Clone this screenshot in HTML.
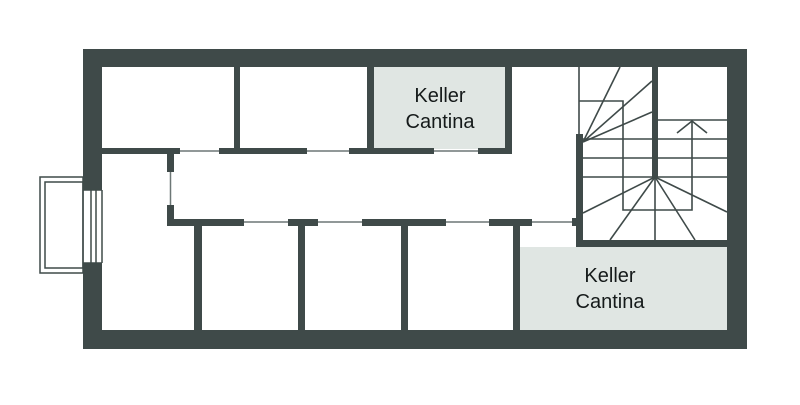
<!DOCTYPE html><html><head><style>body{margin:0;background:#fff}svg{display:block}</style></head><body>
<svg width="800" height="405" viewBox="0 0 800 405" xmlns="http://www.w3.org/2000/svg">
<g fill="#e0e6e3"><rect x="374" y="67" width="131" height="82"/><rect x="520" y="247" width="207" height="83"/></g>
<g stroke="#6d7776" stroke-width="1.5" fill="none">
<line x1="180" y1="151" x2="219" y2="151"/><line x1="307" y1="151" x2="349" y2="151"/><line x1="434" y1="151" x2="478" y2="151"/>
<line x1="170.5" y1="172" x2="170.5" y2="205"/>
<line x1="244" y1="222" x2="288" y2="222"/><line x1="318" y1="222" x2="362" y2="222"/><line x1="446" y1="222" x2="489" y2="222"/><line x1="532" y1="222" x2="573" y2="222"/>
</g>
<g fill="#3f4a49">
<rect x="83" y="49" width="664" height="18"/><rect x="83" y="330" width="664" height="19"/>
<rect x="83" y="49" width="19" height="141"/><rect x="83" y="263" width="19" height="86"/>
<rect x="727" y="49" width="20" height="300"/>
<rect x="234" y="67" width="6" height="85"/><rect x="367" y="67" width="7" height="85"/><rect x="505" y="67" width="7" height="87"/>
<rect x="102" y="148" width="78" height="6"/><rect x="219" y="148" width="88" height="6"/><rect x="349" y="148" width="85" height="6"/><rect x="478" y="148" width="34" height="6"/>
<rect x="167" y="148" width="7" height="24"/><rect x="167" y="205" width="7" height="21"/>
<rect x="167" y="219" width="77" height="7"/><rect x="288" y="219" width="30" height="7"/><rect x="362" y="219" width="84" height="7"/><rect x="489" y="219" width="43" height="7"/><rect x="572" y="218" width="8" height="8"/>
<rect x="194" y="226" width="8" height="104"/><rect x="298" y="226" width="7" height="104"/><rect x="401" y="226" width="7" height="104"/><rect x="513" y="226" width="7" height="104"/>
<rect x="576" y="134" width="7" height="113"/><rect x="576" y="240" width="151" height="7"/>
<rect x="652" y="67" width="6" height="110"/>
</g>
<g stroke="#3f4a49" stroke-width="1.5" fill="none">
<rect x="40" y="177" width="43" height="96"/><rect x="45" y="182" width="38" height="86"/>
<line x1="91" y1="190" x2="91" y2="263"/><line x1="96" y1="190" x2="96" y2="263"/><line x1="102" y1="190" x2="102" y2="263"/>
<line x1="83" y1="190" x2="102" y2="190"/><line x1="83" y1="263" x2="102" y2="263"/>
</g>
<g stroke="#3f4a49" stroke-width="1.6" fill="none">
<line x1="579" y1="67" x2="579" y2="134"/>
<polyline points="579,101 623,101 623,210 692,210 692,121"/>
<line x1="657" y1="120" x2="727" y2="120"/>
<line x1="583" y1="139" x2="727" y2="139"/><line x1="583" y1="158" x2="727" y2="158"/><line x1="583" y1="177" x2="727" y2="177"/>
<line x1="583" y1="142" x2="620" y2="67"/><line x1="583" y1="142" x2="652" y2="81"/><line x1="583" y1="142" x2="652" y2="112"/>
<line x1="655" y1="177" x2="583" y2="213"/><line x1="655" y1="177" x2="610" y2="240"/><line x1="655" y1="177" x2="655" y2="240"/><line x1="655" y1="177" x2="695" y2="240"/><line x1="655" y1="177" x2="727" y2="212"/>
<polyline points="677,133 692,121 707,133"/>
</g>
<g font-family="Liberation Sans, sans-serif" font-size="20" fill="#151a1a" text-anchor="middle">
<text x="440" y="102">Keller</text><text x="440" y="128">Cantina</text>
<text x="610" y="282">Keller</text><text x="610" y="308">Cantina</text>
</g>
</svg>
</body></html>
